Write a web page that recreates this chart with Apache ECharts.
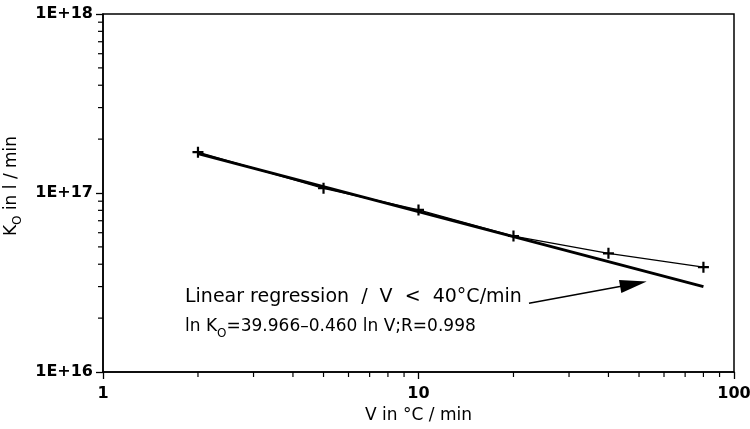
<!DOCTYPE html>
<html><head><meta charset="utf-8">
<script src="https://cdn.jsdelivr.net/npm/echarts@6/dist/echarts.min.js"></script>
<style>html,body{margin:0;padding:0;background:#fff}#c{width:750px;height:429px}</style>
</head><body><div id="c"></div>
<script>
// Data
const rates = [2, 5, 10, 20, 40, 80];                       // V in °C/min
const k0Values = [1.69e17, 1.063e17, 8.04e16, 5.75e16, 4.60e16, 3.85e16];
const regressionV = [2, 80];
const regressionK = [1.66e17, 3.0e16];
const arrowFrom = [22.4, 2.42e16];
const arrowTo = [48.0, 3.1e16];
const xTickLabels = ['1', '10', '100'];
const yTickLabels = ['1E+16', '1E+17', '1E+18'];
const xDecades = [1, 10];
const yDecades = [1e16, 1e17];
const minorMultipliers = [2, 3, 4, 5, 6, 7, 8, 9];
const annotationLine1 = 'Linear regression  /  V  <  40°C/min';
const annotationLine2 = 'ln K{s|O}=39.966–0.460 ln V;R=0.998';

const FONT = 'DejaVu Sans';
const chart = echarts.init(document.getElementById('c'), null, {renderer: 'canvas'});

const measured = rates.map((v, i) => [v, k0Values[i]]);
const regression = regressionV.map((v, i) => [v, regressionK[i]]);

chart.setOption({
  animation: false,
  backgroundColor: '#fff',
  grid: {left: 103, right: 16, top: 14, bottom: 57, containLabel: false, outerBoundsMode: 'none',
    show: true, borderColor: '#000', borderWidth: 1.5, backgroundColor: 'transparent'},
  xAxis: {
    type: 'log', logBase: 10, min: 1, max: 100,
    axisLine: {show: true, lineStyle: {color: '#000', width: 1.5}},
    axisTick: {show: true, inside: false, length: 7, lineStyle: {color: '#000', width: 1.3}},
    splitLine: {show: false},
    axisLabel: {
      color: '#000', fontFamily: FONT, fontSize: 16, fontWeight: 'bold', margin: 14,
      formatter: v => xTickLabels[Math.round(Math.log10(v))]
    },
    name: 'V in °C / min', nameLocation: 'middle', nameGap: 35,
    nameTextStyle: {color: '#000', fontFamily: FONT, fontSize: 17}
  },
  yAxis: {
    type: 'log', logBase: 10, min: 1e16, max: 1e18,
    axisLine: {show: true, lineStyle: {color: '#000', width: 1.5}},
    axisTick: {show: true, inside: false, length: 7, lineStyle: {color: '#000', width: 1.3}},
    splitLine: {show: false},
    axisLabel: {
      color: '#000', fontFamily: FONT, fontSize: 16, fontWeight: 'bold', margin: 10,
      formatter: v => yTickLabels[Math.round(Math.log10(v)) - 16]
    },
    name: 'K{s|O} in l / min', nameLocation: 'middle', nameGap: 69, nameRotate: 90,
    nameTextStyle: {
      color: '#000', fontFamily: FONT, fontSize: 17, padding: [0, 0, 0, 14],
      rich: {
        s: {fontFamily: FONT, fontSize: 12, color: '#000', verticalAlign: 'bottom', lineHeight: 12}
      },
      lineHeight: 26
    }
  },
  series: [
    {
      type: 'line', data: measured,
      symbol: 'path://M4,0 H6 V4 H10 V6 H6 V10 H4 V6 H0 V4 H4 Z', symbolSize: 11,
      itemStyle: {color: '#000'},
      lineStyle: {color: '#000', width: 1.3},
      z: 3
    },
    {
      type: 'line', data: regression, symbol: 'none',
      lineStyle: {color: '#000', width: 3},
      z: 2,
      markLine: {
        silent: true, animation: false,
        symbol: ['none', 'triangle'], symbolSize: [13, 27],
        lineStyle: {color: '#000', width: 1.5, type: 'solid'},
        label: {show: false},
        data: [[{coord: arrowFrom}, {coord: arrowTo}]]
      }
    }
  ]
});

// Minor log ticks and annotation text
const g = [];
xDecades.forEach(d => minorMultipliers.forEach(m => {
  const p = chart.convertToPixel({gridIndex: 0}, [d * m, 1e16]);
  g.push({type: 'line', silent: true, shape: {x1: p[0], y1: p[1], x2: p[0], y2: p[1] + 5}, style: {stroke: '#000', lineWidth: 1.2}});
}));
yDecades.forEach(d => minorMultipliers.forEach(m => {
  const p = chart.convertToPixel({gridIndex: 0}, [1, d * m]);
  g.push({type: 'line', silent: true, shape: {x1: p[0] - 5, y1: p[1], x2: p[0], y2: p[1]}, style: {stroke: '#000', lineWidth: 1.2}});
}));
g.push({type: 'text', left: 185, top: 288, silent: true,
  style: {text: annotationLine1, fill: '#000', font: '19px "DejaVu Sans"'}});
g.push({type: 'text', left: 185, top: 314, silent: true,
  style: {text: annotationLine2, fill: '#000', font: '17px "DejaVu Sans"',
    rich: {s: {font: '12px "DejaVu Sans"', fill: '#000', verticalAlign: 'bottom', lineHeight: 12}}, lineHeight: 26}});
chart.setOption({graphic: g});
</script>
</body></html>
